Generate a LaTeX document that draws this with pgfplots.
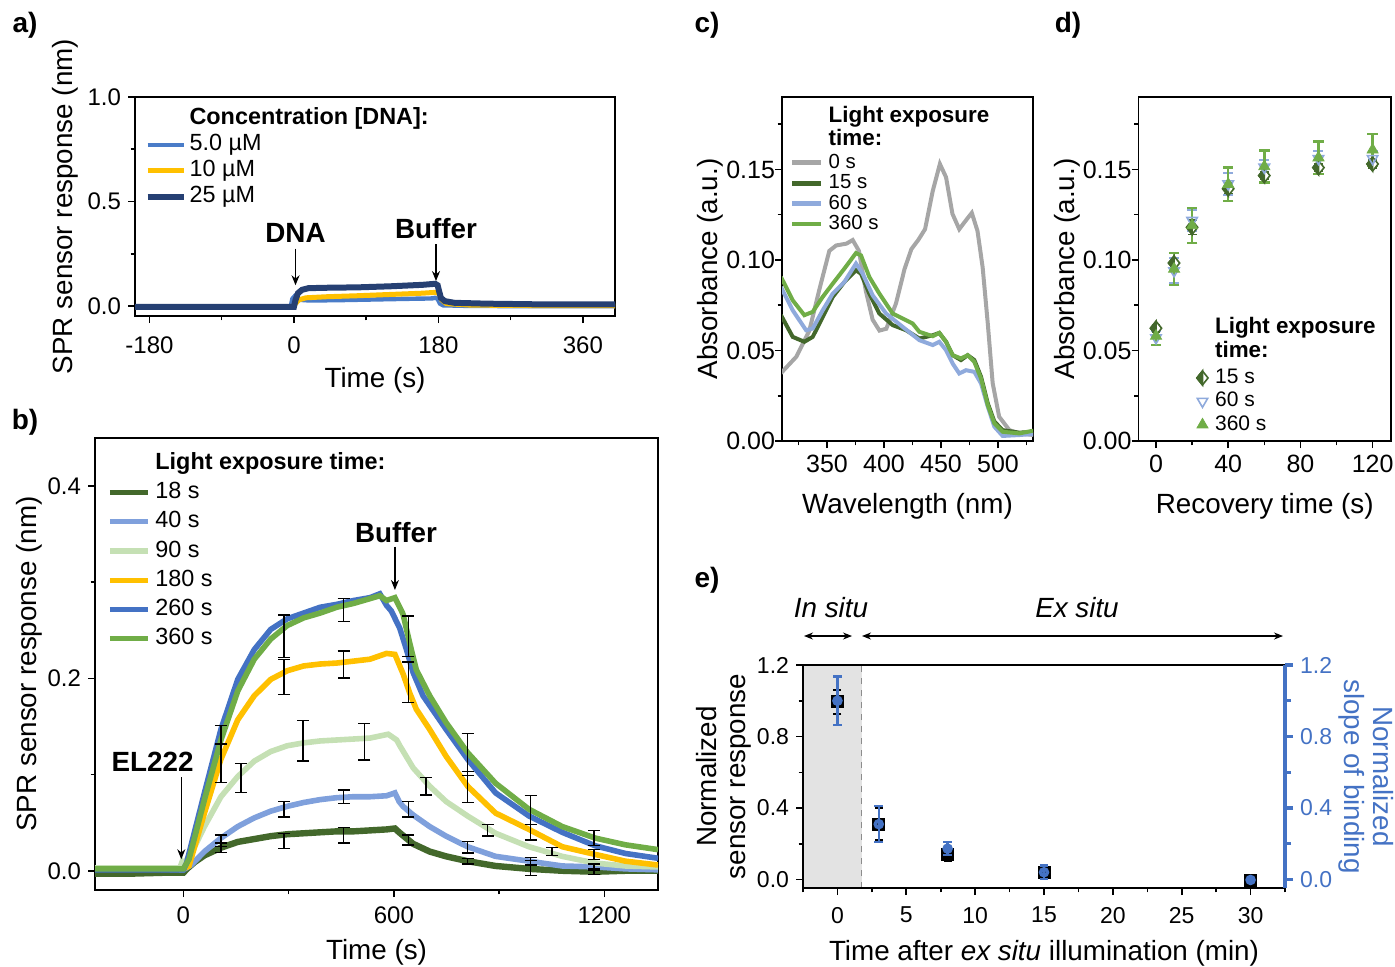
\documentclass[border=0pt]{standalone}
\usepackage{fontspec}
\setmainfont{Liberation Sans}
\usepackage{pgfplots}
\usepackage{pgfplotstable}
\pgfplotsset{compat=1.18}
\usetikzlibrary{arrows.meta}

\definecolor{aBlue}{RGB}{74,124,200}
\definecolor{aYel}{RGB}{255,192,0}
\definecolor{aNavy}{RGB}{38,64,115}
\definecolor{dGreen}{RGB}{67,104,43}
\definecolor{lBlue}{RGB}{127,160,220}
\definecolor{pGreen}{RGB}{197,224,180}
\definecolor{mBlue}{RGB}{68,114,196}
\definecolor{mGreen}{RGB}{112,173,71}
\definecolor{sGray}{RGB}{166,166,166}
\definecolor{cBlue}{RGB}{143,170,220}
\definecolor{eBlue}{RGB}{68,114,196}

\newcommand{\fs}[1]{\fontsize{#1}{#1}\selectfont}

\pgfdeclareplotmark{halfdiamond}{%
  \pgfpathmoveto{\pgfqpoint{0pt}{1.25\pgfplotmarksize}}%
  \pgfpathlineto{\pgfqpoint{\pgfplotmarksize}{0pt}}%
  \pgfpathlineto{\pgfqpoint{0pt}{-1.25\pgfplotmarksize}}%
  \pgfpathlineto{\pgfqpoint{-\pgfplotmarksize}{0pt}}%
  \pgfpathclose
  \pgfusepathqfillstroke
  \begin{pgfscope}%
  \pgfsetfillcolor{dGreen}%
  \pgfpathmoveto{\pgfqpoint{0pt}{1.25\pgfplotmarksize}}%
  \pgfpathlineto{\pgfqpoint{-\pgfplotmarksize}{0pt}}%
  \pgfpathlineto{\pgfqpoint{0pt}{-1.25\pgfplotmarksize}}%
  \pgfpathclose
  \pgfusepathqfillstroke
  \end{pgfscope}%
}

\pgfplotsset{
  panel/.style={scale only axis, anchor=south west,
    axis line style={line width=0.8pt}, tick style={black, line width=0.8pt},
    tick align=outside, xtick pos=left, ytick pos=left,
    major tick length=3.5pt, minor tick length=2.2pt,
    /pgf/number format/assume math mode=true,
    /pgf/number format/1000 sep={},
    legend cell align=left,
    label style={font=\fs{13.9}}, tick label style={font=\fs{12}}},
  ebar/.style={draw=none, mark=none, forget plot,
    error bars/.cd, y dir=both, y explicit,
    error bar style={draw=black, line width=0.7pt, solid},
    error mark options={draw=black, rotate=90, mark size=3pt, line width=0.7pt}},
}

% ---------------- panel b data ----------------
\pgfplotstableread{
t y
-252 -0.003
-150 -0.003
-50 -0.002
0 -0.002
10 0.002
32 0.009
60 0.016
107 0.024
155 0.030
202 0.033
249 0.036
296 0.038
343 0.039
390 0.040
437 0.041
485 0.041
532 0.042
579 0.043
603 0.044
615 0.040
655 0.028
702 0.020
749 0.015
810 0.010
890 0.005
985 0.002
1080 0.000
1174 -0.001
1260 0.000
1353 0.000
}\bA
\pgfplotstableread{
t y
-252 0.002
-100 0.002
0 0.001
22 0.006
60 0.020
107 0.034
155 0.046
202 0.055
249 0.062
296 0.067
343 0.071
390 0.074
437 0.076
485 0.077
532 0.077
579 0.078
603 0.081
615 0.072
626 0.067
655 0.058
702 0.046
749 0.036
810 0.025
890 0.015
985 0.010
1080 0.005
1174 0.004
1260 0.002
1353 0.001
}\bB
\pgfplotstableread{
t y
-252 0.003
-100 0.003
-10 0.003
-4 0.009
0 0.006
32 0.025
60 0.046
107 0.077
155 0.098
202 0.114
249 0.124
296 0.130
343 0.133
390 0.135
437 0.136
485 0.137
532 0.138
584 0.142
608 0.136
617 0.130
655 0.107
702 0.088
749 0.072
810 0.057
890 0.039
985 0.025
1080 0.015
1174 0.008
1260 0.005
1353 0.004
}\bC
\pgfplotstableread{
t y
-252 0.002
0 0.002
16 0.005
60 0.060
107 0.116
155 0.157
202 0.182
249 0.199
296 0.208
343 0.213
390 0.215
437 0.216
485 0.218
532 0.220
579 0.226
603 0.225
626 0.205
645 0.185
664 0.168
702 0.147
749 0.119
810 0.088
890 0.060
985 0.043
1080 0.025
1174 0.017
1260 0.010
1353 0.006
}\bD
\pgfplotstableread{
t y
-252 0.001
0 0.001
9 0.008
60 0.081
107 0.147
155 0.199
202 0.230
249 0.251
296 0.262
343 0.268
390 0.274
437 0.277
485 0.281
532 0.284
560 0.288
579 0.276
593 0.270
617 0.252
636 0.230
655 0.206
683 0.182
749 0.147
810 0.116
890 0.081
985 0.057
1080 0.040
1174 0.026
1260 0.018
1353 0.013
}\bE
\pgfplotstableread{
t y
-252 0.002
0 0.002
16 0.012
60 0.074
107 0.136
155 0.187
202 0.220
249 0.241
296 0.255
343 0.263
390 0.268
437 0.274
485 0.278
532 0.283
560 0.286
579 0.281
603 0.284
626 0.267
645 0.237
664 0.209
702 0.182
749 0.154
810 0.123
890 0.091
985 0.064
1080 0.046
1174 0.034
1260 0.027
1353 0.022
}\bF

% ---------------- panel c data ----------------
\pgfplotstableread{
w a
309.6 0.0375
323 0.0465
334.5 0.061
343 0.083
352 0.105
358 0.108
367 0.109
372.5 0.111
378 0.105
384 0.083
390 0.067
396 0.061
402 0.062
410.5 0.076
418 0.095
424 0.106
430 0.111
436 0.117
442.7 0.138
449 0.153
454.4 0.1457
460 0.1255
466 0.117
472 0.122
477 0.126
482 0.116
486.5 0.096
491 0.065
495.3 0.032
501 0.0134
510 0.006
518.7 0.0042
531 0.0033
}\cA
\pgfplotstableread{
w a
309.6 0.0695
319.9 0.0575
330.1 0.0548
337.4 0.0575
346.2 0.0685
355 0.0796
365.2 0.0878
375.4 0.0943
379.8 0.0924
387.1 0.0814
395.9 0.0704
407.6 0.064
419.3 0.0612
431 0.0566
442.7 0.0584
448.5 0.0597
454.4 0.0548
460.2 0.0474
467.5 0.0447
473.4 0.0474
479.2 0.0447
485.1 0.0355
491 0.0208
496.8 0.0107
504.1 0.006
518.7 0.0046
531 0.0051
}\cB
\pgfplotstableread{
w a
309.6 0.085
319.9 0.0722
331.6 0.0612
337.4 0.0621
346.2 0.0722
355 0.0814
365.2 0.0878
375.4 0.098
381.3 0.0924
390 0.0805
401.8 0.0704
416.4 0.063
431 0.0557
442.7 0.053
448.5 0.0548
454.4 0.0502
460.2 0.0428
466 0.0373
471.9 0.0391
479.2 0.0382
485.1 0.0318
491 0.019
496.8 0.0079
504.1 0.0028
518.7 0.0033
531 0.0039
}\cC
\pgfplotstableread{
w a
309.6 0.0906
319.9 0.0777
330.1 0.0695
337.4 0.0713
346.2 0.0796
355 0.0869
365.2 0.0952
375.4 0.1038
379.8 0.1025
387.1 0.0906
395.9 0.0814
407.6 0.0704
419.3 0.0667
425.1 0.0649
431 0.0603
442.7 0.0579
448.5 0.0597
454.4 0.0548
460.2 0.0474
467.5 0.0456
473.4 0.0474
479.2 0.0437
485.1 0.0345
491 0.0198
496.8 0.0097
504.1 0.0051
518.7 0.0042
531 0.0057
}\cD

\begin{document}
\begin{tikzpicture}
\useasboundingbox (0,0) rectangle (697.5pt,483pt);

\node[font=\bfseries\fs{14}] at (12.5pt,470.5pt) {a)};
\node[font=\bfseries\fs{14}] at (12.5pt,272pt) {b)};
\node[font=\bfseries\fs{14}] at (353.5pt,470.5pt) {c)};
\node[font=\bfseries\fs{14}] at (534pt,470.5pt) {d)};
\node[font=\bfseries\fs{14}] at (353.5pt,193pt) {e)};

% ================= panel a =================
\begin{axis}[panel, at={(67.5pt,325pt)}, width=240pt, height=109.5pt,
  xmin=-198, xmax=400, ymin=-0.047, ymax=1.0,
  xtick={-180,0,180,360}, minor xtick={-90,90,270},
  ytick={0,0.5,1}, minor ytick={0.25,0.75},
  yticklabel style={/pgf/number format/.cd,fixed,fixed zerofill,precision=1},
  xticklabel style={yshift=-3.5pt},
  xlabel={Time (s)}, ylabel={SPR sensor response (nm)}, ylabel shift=-2pt,
  legend style={draw=none, fill=none, inner sep=0pt, at={(0.019,0.952)}, anchor=north west,
    font=\fs{11.7}, row sep=2pt,
    nodes={inner sep=0pt, text height=8.5pt, text depth=2.5pt},
    /tikz/every odd column/.append style={column sep=1.5pt}},
  legend image code/.code={\draw[#1] (0pt,0pt) -- (18pt,0pt);}]
\addlegendimage{empty legend}
\addlegendentry{\bfseries Concentration [DNA]:}
\addplot[aBlue, line width=2.2pt] coordinates {(-198,-0.003) (-120,-0.002) (-60,-0.003) (-4,-0.003) (-2,0.035) (1,0.048) (4,0.04) (8,0.03) (20,0.027) (60,0.029) (100,0.032) (140,0.035) (172,0.037) (176,0.04) (179,0.035) (182,0.012) (186,0.004) (220,0.001) (300,0.0) (400,0.0)};
\addlegendentry{5.0 µM}
\addplot[aYel, line width=2.5pt] coordinates {(-198,-0.002) (-2,-0.002) (2,0.012) (6,0.03) (15,0.04) (40,0.045) (80,0.05) (120,0.056) (160,0.062) (176,0.066) (181,0.06) (184,0.03) (190,0.012) (220,0.005) (300,0.003) (400,0.002)};
\addlegendentry{10 µM}
\addplot[aNavy, line width=3pt] coordinates {(-198,-0.003) (-60,-0.003) (0,-0.003) (2,0.03) (5,0.062) (10,0.078) (18,0.086) (40,0.088) (80,0.09) (120,0.095) (160,0.102) (176,0.107) (179,0.1) (183,0.04) (188,0.024) (200,0.016) (240,0.012) (300,0.009) (400,0.008)};
\addlegendentry{25 µM}
\node[font=\bfseries\fs{13.9}] at (axis cs:2,0.35) {DNA};
\draw[line width=0.6pt, -{Stealth[length=5pt,width=4pt]}] (axis cs:2,0.275) -- (axis cs:2,0.1);
\node[font=\bfseries\fs{13.9}] at (axis cs:177,0.37) {Buffer};
\draw[line width=0.6pt, -{Stealth[length=5pt,width=4pt]}] (axis cs:177,0.295) -- (axis cs:177,0.12);
\end{axis}

% ================= panel b =================
\begin{axis}[panel, at={(47.5pt,38pt)}, width=281.5pt, height=226pt,
  xmin=-252, xmax=1353, ymin=-0.02, ymax=0.45,
  xtick={0,600,1200}, minor xtick={300,900},
  ytick={0,0.2,0.4}, minor ytick={0.1,0.3},
  yticklabel style={/pgf/number format/.cd,fixed,fixed zerofill,precision=1},
  xticklabel style={yshift=-1.5pt}, xlabel style={yshift=-1pt},
  xlabel={Time (s)}, ylabel={SPR sensor response (nm)}, ylabel shift=-4pt,
  legend style={draw=none, fill=none, inner sep=0pt, at={(0.021,0.969)}, anchor=north west,
    font=\fs{11.7}, row sep=3.6pt,
    nodes={inner sep=0pt, text height=8.5pt, text depth=2.5pt},
    /tikz/every odd column/.append style={column sep=2.5pt}},
  legend image code/.code={\draw[#1, line width=2.6pt] (0pt,0pt) -- (19pt,0pt);}]
\addlegendimage{empty legend}
\addlegendentry{\bfseries Light exposure time:}
\addplot[dGreen, line width=3.2pt] table[x=t,y=y] {\bA};
\addlegendentry{18 s}
\addplot[lBlue, line width=2.8pt] table[x=t,y=y] {\bB};
\addlegendentry{40 s}
\addplot[pGreen, line width=2.8pt] table[x=t,y=y] {\bC};
\addlegendentry{90 s}
\addplot[aYel, line width=2.8pt] table[x=t,y=y] {\bD};
\addlegendentry{180 s}
\addplot[mBlue, line width=2.8pt] table[x=t,y=y] {\bE};
\addlegendentry{260 s}
\addplot[mGreen, line width=2.8pt] table[x=t,y=y] {\bF};
\addlegendentry{360 s}
\addplot[ebar] coordinates {(107,0.141) +- (0,0.01) (287,0.244) +- (0,0.022) (457,0.271) +- (0,0.012) (641,0.244) +- (0,0.021) (810,0.121) +- (0,0.022) (990,0.063) +- (0,0.015) (1170,0.034) +- (0,0.008)};
\addplot[ebar] coordinates {(107,0.112) +- (0,0.02) (287,0.2015) +- (0,0.018) (457,0.2146) +- (0,0.014) (641,0.196) +- (0,0.021) (810,0.087) +- (0,0.016) (990,0.04) +- (0,0.008) (1170,0.017) +- (0,0.005)};
\addplot[ebar] coordinates {(164,0.0965) +- (0,0.015) (341,0.135) +- (0,0.021) (516,0.134) +- (0,0.019) (692,0.088) +- (0,0.009) (867,0.042) +- (0,0.006) (1051,0.02) +- (0,0.004)};
\addplot[ebar] coordinates {(107,0.031) +- (0,0.006) (287,0.064) +- (0,0.008) (457,0.077) +- (0,0.007) (641,0.064) +- (0,0.008) (810,0.0245) +- (0,0.006) (990,0.01) +- (0,0.004) (1170,0.004) +- (0,0.003)};
\addplot[ebar] coordinates {(107,0.024) +- (0,0.005) (287,0.031) +- (0,0.008) (457,0.037) +- (0,0.008) (641,0.032) +- (0,0.005) (810,0.010) +- (0,0.003) (990,0.003) +- (0,0.008) (1170,-0.001) +- (0,0.003)};
\node[font=\bfseries\fs{13.9}] at (axis cs:-88,0.113) {EL222};
\draw[line width=0.6pt, -{Stealth[length=5pt,width=4pt]}] (axis cs:-6,0.097) -- (axis cs:-6,0.012);
\node[font=\bfseries\fs{13.9}] at (axis cs:606,0.352) {Buffer};
\draw[line width=0.6pt, -{Stealth[length=5pt,width=4pt]}] (axis cs:603,0.337) -- (axis cs:603,0.292);
\end{axis}

% ================= panel c =================
\begin{axis}[panel, at={(391pt,262.5pt)}, width=125.5pt, height=172pt,
  xmin=310.5, xmax=530.7, ymin=0, ymax=0.19,
  xtick={350,400,450,500}, minor xtick={325,375,425,475,525},
  ytick={0,0.05,0.1,0.15}, minor ytick={0.025,0.075,0.125,0.175},
  yticklabel style={xshift=3.5pt, /pgf/number format/.cd,fixed,fixed zerofill,precision=2},
  tick label style={font=\fs{12.5}},
  xlabel style={yshift=-3.5pt}, ylabel shift=-5.5pt,
  xlabel={Wavelength (nm)}, ylabel={Absorbance (a.u.)},
  legend style={draw=none, fill=none, inner sep=0pt, at={(0.03,0.956)}, anchor=north west,
    font=\fs{10.2}, row sep=0.7pt,
    nodes={inner sep=0pt, text height=7.5pt, text depth=2pt},
    /tikz/every odd column/.append style={column sep=2.5pt}},
  legend image code/.code={\draw[#1, line width=2.4pt] (0pt,0pt) -- (14.5pt,0pt);}]
\addlegendimage{empty legend}
\addlegendentry{\raisebox{2.5pt}{\fs{11.2}\bfseries Light exposure}}
\addlegendimage{empty legend}
\addlegendentry{\raisebox{1pt}{\fs{11.2}\bfseries time:}}
\addplot[sGray, line width=2pt] table[x=w,y=a] {\cA};
\addlegendentry{0 s}
\addplot[dGreen, line width=2pt] table[x=w,y=a] {\cB};
\addlegendentry{15 s}
\addplot[cBlue, line width=2pt] table[x=w,y=a] {\cC};
\addlegendentry{60 s}
\addplot[mGreen, line width=2pt] table[x=w,y=a] {\cD};
\addlegendentry{360 s}
\end{axis}

% ================= panel d =================
\begin{axis}[panel, at={(569.25pt,262.5pt)}, width=126.25pt, height=172pt,
  xmin=-9.7, xmax=130.2, ymin=0, ymax=0.19,
  xtick={0,40,80,120}, minor xtick={20,60,100},
  ytick={0,0.05,0.1,0.15}, minor ytick={0.025,0.075,0.125,0.175},
  yticklabel style={xshift=3.5pt, /pgf/number format/.cd,fixed,fixed zerofill,precision=2},
  tick label style={font=\fs{12.5}},
  xlabel style={yshift=-3.5pt}, ylabel shift=-5.5pt,
  xlabel={Recovery time (s)}, ylabel={Absorbance (a.u.)},
  legend style={draw=none, fill=none, inner sep=0pt, at={(0.228,0.351)}, anchor=north west,
    font=\fs{10.5}, row sep=1.2pt,
    nodes={inner sep=0pt, text height=8pt, text depth=2.5pt},
    /tikz/every odd column/.append style={column sep=3.5pt}},
  legend image code/.code={\draw[#1] plot coordinates {(3pt,0pt)};}]
\addlegendimage{empty legend}
\addlegendentry{\raisebox{1.5pt}{\fs{11.2}\bfseries Light exposure}}
\addlegendimage{empty legend}
\addlegendentry{\raisebox{1.5pt}{\fs{11.2}\bfseries time:}}
\addplot[only marks, mark=halfdiamond, mark size=2.8pt, mark options={draw=dGreen, fill=white, line width=0.8pt},
  error bars/.cd, y dir=both, y explicit, error bar style={dGreen, line width=0.9pt},
  error mark options={dGreen, rotate=90, mark size=2.2pt, line width=0.9pt}]
  coordinates {(0,0.0623) +- (0,0.002) (10,0.0983) +- (0,0.003) (20,0.118) +- (0,0.004) (40,0.1393) +- (0,0.003) (60,0.1466) +- (0,0.002) (90,0.151) +- (0,0.002) (120,0.153) +- (0,0.002)};
\addlegendentry{15 s}
\addplot[only marks, mark=triangle, mark size=3pt, mark options={draw=cBlue, rotate=180, line width=0.8pt},
  error bars/.cd, y dir=both, y explicit, error bar style={cBlue, line width=1pt},
  error mark options={cBlue, rotate=90, mark size=2.5pt, line width=1pt}]
  coordinates {(0,0.057) +- (0,0.004) (10,0.094) +- (0,0.007) (20,0.1218) +- (0,0.006) (40,0.142) +- (0,0.006) (60,0.1512) +- (0,0.004) (90,0.156) +- (0,0.004) (120,0.156) +- (0,0.004)};
\addlegendentry{60 s}
\addplot[only marks, mark=triangle*, mark size=3.2pt, mark options={draw=mGreen, fill=mGreen},
  error bars/.cd, y dir=both, y explicit, error bar style={mGreen, line width=1.2pt},
  error mark options={mGreen, rotate=90, mark size=2.6pt, line width=1.2pt}]
  coordinates {(0,0.058) +- (0,0.005) (10,0.095) +- (0,0.0087) (20,0.119) +- (0,0.0098) (40,0.1418) +- (0,0.0093) (60,0.1516) +- (0,0.0088) (90,0.1565) +- (0,0.009) (120,0.1608) +- (0,0.0088)};
\addlegendentry{360 s}
\end{axis}

% ================= panel e =================
\begin{axis}[panel, at={(401.5pt,39pt)}, width=241pt, height=111.5pt,
  axis on top,
  xmin=-2.5, xmax=32.5, ymin=-0.047, ymax=1.2,
  xtick={0,5,...,30}, minor xtick={-2.5,2.5,...,32.5},
  ytick={0,0.4,0.8,1.2}, minor ytick={0.2,0.6,1.0},
  yticklabel style={/pgf/number format/.cd,fixed,fixed zerofill,precision=1},
  tick label style={font=\fs{11.5}},
  xticklabel style={yshift=-2.5pt}, xlabel style={yshift=-1.5pt},
  xlabel={Time after \textit{ex situ} illumination (min)},
  ylabel={Normalized\\sensor response}, ylabel shift=-4pt,
  ylabel style={align=center, font=\fontsize{13.9}{14.5}\selectfont}]
\addplot[fill=black!11, draw=none] coordinates {(-2.5,-0.047) (1.75,-0.047) (1.75,1.2) (-2.5,1.2)} -- cycle;
\addplot[dashed, black!45, line width=0.8pt] coordinates {(1.75,-0.047) (1.75,1.2)};
\addplot[only marks, mark=square*, mark size=3pt, black,
  error bars/.cd, y dir=both, y explicit, error bar style={black, line width=1pt},
  error mark options={black, rotate=90, mark size=2pt, line width=1pt}]
  coordinates {(0,0.994) +- (0,0.068) (3,0.309) +- (0,0.09) (8,0.143) +- (0,0.04) (15,0.041) +- (0,0.02) (30,-0.007) +- (0,0.01)};
\end{axis}
\begin{axis}[scale only axis, anchor=south west, at={(401.5pt,39pt)}, width=241pt, height=111.5pt,
  xmin=-2.5, xmax=32.5, ymin=-0.047, ymax=1.2,
  axis x line=none, axis y line*=right,
  y axis line style={eBlue, line width=1.6pt},
  ytick={0,0.4,0.8,1.2}, minor ytick={0.2,0.6,1.0},
  ytick style={eBlue, line width=1.6pt}, tick align=outside,
  major tick length=4pt, minor tick length=3pt,
  /pgf/number format/assume math mode=true,
  yticklabel style={eBlue, font=\fs{11.5}, /pgf/number format/.cd,fixed,fixed zerofill,precision=1},
  ylabel={Normalized\\slope of binding},
  ylabel style={at={(rel axis cs:1.168,0.5)}, anchor=center, align=center, text=eBlue, font=\fontsize{13.9}{14.5}\selectfont, rotate=180}]
\addplot[only marks, mark=o, mark size=1.7pt, mark options={draw=eBlue, fill=white, line width=1.8pt},
  error bars/.cd, y dir=both, y explicit, error bar style={eBlue, line width=1.2pt},
  error mark options={eBlue, rotate=90, mark size=2.2pt, line width=1.2pt}]
  coordinates {(0,1.0) +- (0,0.135) (3,0.31) +- (0,0.1) (8,0.173) +- (0,0.036) (15,0.041) +- (0,0.037) (30,-0.002) +- (0,0.005)};
\end{axis}
\node[font=\itshape\fs{13.9}] at (415.5pt,179pt) {In situ};
\node[font=\itshape\fs{13.9}] at (538.5pt,179pt) {Ex situ};
\draw[line width=0.6pt, {Stealth[length=4.5pt,width=3.5pt]}-{Stealth[length=4.5pt,width=3.5pt]}] (402pt,165pt) -- (426pt,165pt);
\draw[line width=0.6pt, {Stealth[length=4.5pt,width=3.5pt]}-{Stealth[length=4.5pt,width=3.5pt]}] (431pt,165pt) -- (641.5pt,165pt);
\end{tikzpicture}
\end{document}
